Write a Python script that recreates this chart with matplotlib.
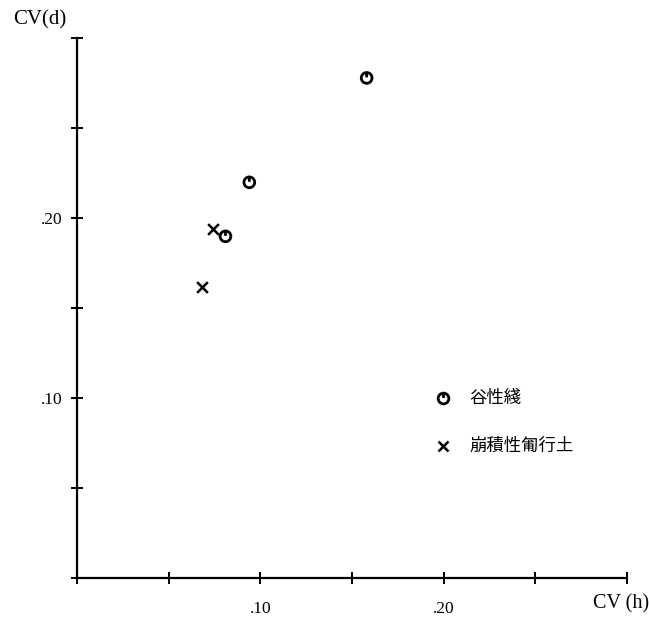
import matplotlib
matplotlib.use("Agg")
import matplotlib.pyplot as plt
from matplotlib.path import Path

# Data
circle_label = "谷性綫"
circle_x = [0.094, 0.081, 0.158]
circle_y = [0.220, 0.190, 0.278]
cross_label = "崩積性匍行土"
cross_x = [0.074, 0.068]
cross_y = [0.194, 0.162]
xticks = [0.0, 0.05, 0.10, 0.15, 0.20, 0.25, 0.30]
xticklabels = ["", "", ".10", "", ".20", "", ""]
yticks = [0.0, 0.05, 0.10, 0.15, 0.20, 0.25, 0.30]
yticklabels = ["", "", ".10", "", ".20", "", ""]

serif = "Liberation Serif"
cjk = ["Noto Sans CJK JP", "DejaVu Sans"]

# circle marker with a small vertical stroke inside
circ = Path.unit_circle()
stroke = Path([(0, 1.0), (0, 0.1)], [Path.MOVETO, Path.LINETO])
clock = Path.make_compound_path(circ, stroke)

fig = plt.figure(figsize=(6.49, 6.19), dpi=100)
ax = fig.add_axes([0.1186, 0.0657, 0.8475, 0.8724])

ax.scatter(circle_x, circle_y, marker=clock, s=60, facecolors="none",
           edgecolors="black", linewidths=2.0, zorder=3)
ax.scatter(cross_x, cross_y, marker="x", s=60, color="black",
           linewidths=1.8, zorder=3)

ax.set_xlim(0, 0.30)
ax.set_ylim(0, 0.30)
ax.spines["top"].set_visible(False)
ax.spines["right"].set_visible(False)
for s in ("left", "bottom"):
    ax.spines[s].set_linewidth(1.6)

ax.set_xticks(xticks)
ax.set_xticklabels(xticklabels, fontfamily=serif, fontsize=12.5)
ax.set_yticks(yticks)
ax.set_yticklabels(yticklabels, fontfamily=serif, fontsize=12.5)
ax.tick_params(axis="both", direction="inout", length=9, width=1.4)
ax.tick_params(axis="x", pad=12)
ax.tick_params(axis="y", pad=6)

fig.text(13 / 649, 1 - 20 / 619, "CV(d)", fontfamily=serif, fontsize=15,
         ha="left", va="center")
fig.text(649 / 649, 1 - 604 / 619, "CV (h)", fontfamily=serif, fontsize=14.5,
         ha="right", va="center")

# legend (drawn manually at its place)
lx, ltx = 443, 469
fig_tr = fig.transFigure
fig.add_artist(plt.Line2D([lx / 649], [1 - 398 / 619], marker=clock,
                          markersize=7.7, markerfacecolor="none",
                          markeredgecolor="black", markeredgewidth=2.0,
                          linestyle="none", transform=fig_tr))
fig.add_artist(plt.Line2D([lx / 649], [1 - 446 / 619], marker="x",
                          markersize=7.7, color="black",
                          markeredgewidth=1.8, linestyle="none",
                          transform=fig_tr))
fig.text(ltx / 649, 1 - 398 / 619, circle_label, family=cjk, fontsize=12.5,
         ha="left", va="center")
fig.text(ltx / 649, 1 - 446 / 619, cross_label, family=cjk, fontsize=12.5,
         ha="left", va="center")

fig.savefig("out.png", dpi=100)
